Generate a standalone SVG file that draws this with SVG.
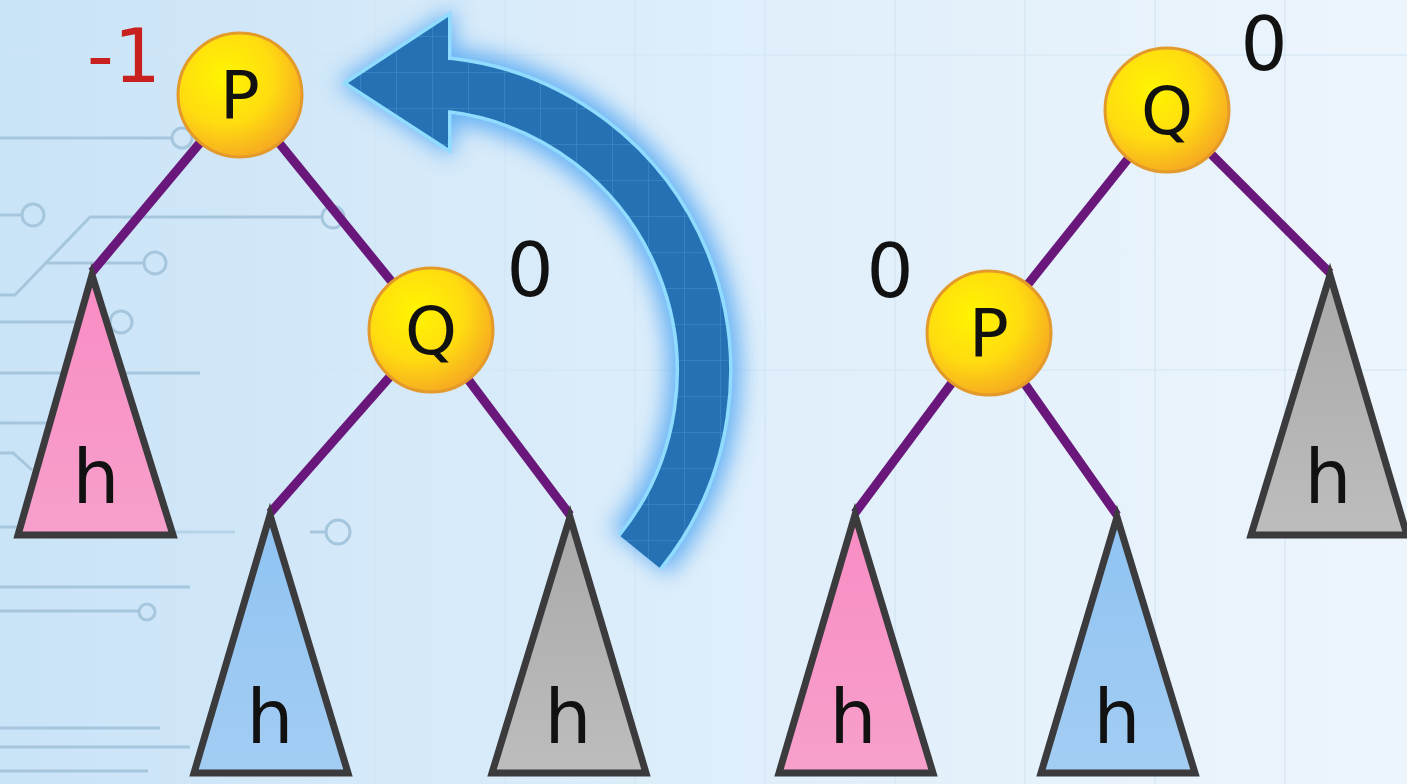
<svg xmlns="http://www.w3.org/2000/svg" width="1407" height="784" viewBox="0 0 1407 784">
<defs>
<linearGradient id="bg" x1="0" y1="0" x2="1" y2="0">
<stop offset="0" stop-color="#c9e3f7"/>
<stop offset="0.45" stop-color="#dcedfa"/>
<stop offset="1" stop-color="#edf5fc"/>
</linearGradient>
<radialGradient id="ball" cx="0.38" cy="0.35" r="0.7">
<stop offset="0" stop-color="#fff500"/>
<stop offset="0.55" stop-color="#ffdc10"/>
<stop offset="1" stop-color="#f5a623"/>
</radialGradient>
<linearGradient id="pink" x1="0" y1="0" x2="0" y2="1">
<stop offset="0" stop-color="#f98cc4"/>
<stop offset="1" stop-color="#f7a0cb"/>
</linearGradient>
<linearGradient id="blue" x1="0" y1="0" x2="0" y2="1">
<stop offset="0" stop-color="#8fc3f2"/>
<stop offset="1" stop-color="#a3cdf3"/>
</linearGradient>
<linearGradient id="gray" x1="0" y1="0" x2="0" y2="1">
<stop offset="0" stop-color="#a9a9a9"/>
<stop offset="1" stop-color="#bdbdbd"/>
</linearGradient>
<pattern id="grid" patternUnits="userSpaceOnUse" width="36" height="36">
<rect width="36" height="36" fill="#2671b4"/>
<path d="M0 0.5H36M0.5 0V36" stroke="#4a8fcc" stroke-width="1" opacity="0.5"/>
</pattern>
<filter id="glow" x="-30%" y="-30%" width="160%" height="160%">
<feGaussianBlur stdDeviation="11"/>
</filter>
</defs>
<style>
.circ{fill:none;stroke:#a6c6dd;stroke-width:3}
.gridl{stroke:#d2e5f3;stroke-width:1.2}
.edge{stroke:#69177a;stroke-width:9;stroke-linecap:butt}
.node{fill:url(#ball);stroke:#e39a2a;stroke-width:3}
.lbl{font-family:"DejaVu Sans",sans-serif;font-size:66px;fill:#111;text-anchor:middle}
.bal{font-family:"DejaVu Sans",sans-serif;font-size:74px;fill:#111;text-anchor:middle}
.tri{stroke:#3b3b3d;stroke-width:7;stroke-linejoin:miter}
.h{font-family:"DejaVu Sans",sans-serif;font-size:74px;fill:#111;text-anchor:middle}
</style>
<rect width="1407" height="784" fill="url(#bg)"/>
<g id="background-grid">
<path class="gridl" d="M115 0V784M245 0V784M375 0V784M505 0V784M635 0V784M765 0V784M895 0V784M1025 0V784M1155 0V784M1285 0V784"/>
<path class="gridl" d="M0 55H1407M0 370H1407"/>
</g>
<g id="circuit">
<path class="circ" d="M0 138H172"/>
<circle class="circ" cx="182" cy="138" r="10"/>
<path class="circ" d="M0 215H22"/>
<circle class="circ" cx="33" cy="215" r="11"/>
<path class="circ" d="M0 295H15L90 217H322"/>
<circle class="circ" cx="333" cy="217" r="11"/>
<path class="circ" d="M46 263H144"/>
<circle class="circ" cx="155" cy="263" r="11"/>
<path class="circ" d="M0 322H110"/>
<circle class="circ" cx="121" cy="322" r="11"/>
<path class="circ" d="M0 373H200"/>
<path class="circ" d="M0 423H50"/>
<path class="circ" d="M0 453H13L32 470"/>
<path class="circ" d="M0 527H25"/>
<path class="circ" d="M170 532H235" opacity="0.6"/>
<path class="circ" d="M310 532H326"/>
<circle class="circ" cx="338" cy="532" r="12"/>
<path class="circ" d="M0 587H190"/>
<path class="circ" d="M0 611H139"/>
<circle class="circ" cx="147" cy="612" r="8"/>
<path class="circ" d="M0 728H160"/>
<path class="circ" d="M0 747H190"/>
<path class="circ" d="M0 771H148"/>
</g>
<g id="rotation-arrow">
<g filter="url(#glow)" opacity="0.8">
<path d="M640 552A288 288 0 0 0 450 85L430 86" fill="none" stroke="#4aa2f2" stroke-width="74"/>
<polygon points="336,83 454,8 454,158" fill="#4aa2f2"/>
</g>
<path d="M640 552A288 288 0 0 0 450 85L430 86" fill="none" stroke="#8fdcff" stroke-width="57"/>
<polygon points="348,83 448,17 448,148" fill="#8fdcff" stroke="#8fdcff" stroke-width="7" stroke-linejoin="miter"/>
<path d="M640 552A288 288 0 0 0 450 85L430 86" fill="none" stroke="url(#grid)" stroke-width="50"/>
<polygon points="348,83 448,17 448,148" fill="url(#grid)"/>
</g>
<g id="connectors">
<line class="edge" x1="240" y1="95" x2="92" y2="272"/>
<line class="edge" x1="240" y1="95" x2="431" y2="330"/>
<line class="edge" x1="431" y1="330" x2="270" y2="513"/>
<line class="edge" x1="431" y1="330" x2="570" y2="515"/>
<line class="edge" x1="1167" y1="110" x2="989" y2="333"/>
<line class="edge" x1="1167" y1="110" x2="1330" y2="273"/>
<line class="edge" x1="989" y1="333" x2="855" y2="513"/>
<line class="edge" x1="989" y1="333" x2="1117" y2="515"/>
</g>
<g id="left-P">
<circle class="node" cx="240" cy="95" r="62"/>
<text class="lbl" x="240" y="118">P</text>
<text class="bal" x="124" y="82" style="fill:#c8201e">-1</text>
</g>
<g id="left-Q">
<circle class="node" cx="431" cy="330" r="62"/>
<text class="lbl" x="431" y="354">Q</text>
<text class="bal" x="530" y="296">0</text>
</g>
<g id="left-pink">
<polygon class="tri" points="92,275 18,535 173,535" fill="url(#pink)"/>
<text class="h" x="96" y="503">h</text>
</g>
<g id="left-blue">
<polygon class="tri" points="270,515 194,773 348,773" fill="url(#blue)"/>
<text class="h" x="270" y="743">h</text>
</g>
<g id="left-gray">
<polygon class="tri" points="570,517 492,773 646,773" fill="url(#gray)"/>
<text class="h" x="568" y="743">h</text>
</g>
<g id="right-Q">
<circle class="node" cx="1167" cy="110" r="62"/>
<text class="lbl" x="1167" y="134">Q</text>
<text class="bal" x="1264" y="70">0</text>
</g>
<g id="right-P">
<circle class="node" cx="989" cy="333" r="62"/>
<text class="lbl" x="989" y="356">P</text>
<text class="bal" x="890" y="297">0</text>
</g>
<g id="right-pink">
<polygon class="tri" points="855,515 779,773 933,773" fill="url(#pink)"/>
<text class="h" x="853" y="743">h</text>
</g>
<g id="right-blue">
<polygon class="tri" points="1117,517 1041,773 1195,773" fill="url(#blue)"/>
<text class="h" x="1117" y="743">h</text>
</g>
<g id="right-gray">
<polygon class="tri" points="1330,275 1251,535 1407,535" fill="url(#gray)"/>
<text class="h" x="1328" y="503">h</text>
</g>
</svg>
